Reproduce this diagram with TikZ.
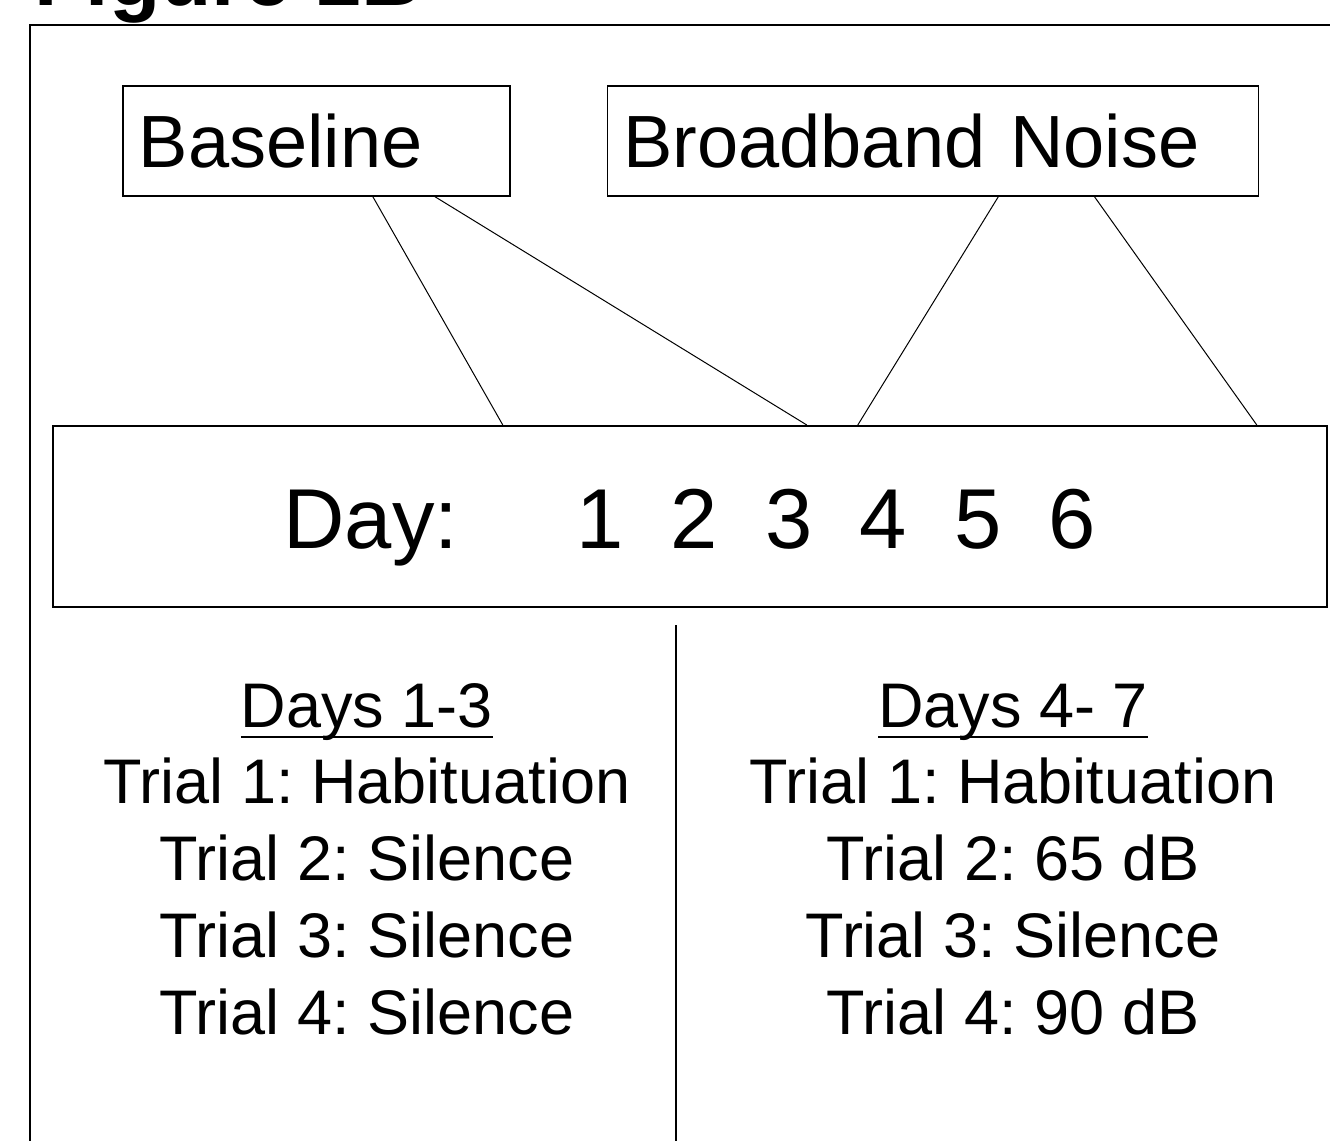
\documentclass[tikz,border=0pt]{standalone}
\usepackage{fontspec}
\setmainfont{Liberation Sans}
\usetikzlibrary{positioning}
\frenchspacing

% underlined column heading, rule drawn just under the baseline
\newsavebox{\headbox}
\newcommand{\colhead}[1]{\sbox{\headbox}{#1}\rlap{\rule[-5.6pt]{\wd\headbox}{1.25pt}}\usebox{\headbox}}

\begin{document}
\begin{tikzpicture}[x=0.5pt,y=-0.5pt,
	phase/.style={draw,line width=0.8pt,anchor=north west,inner xsep=8pt,minimum height=55pt,align=left,text height=26.5pt,text depth=0pt,font=\fontsize{37}{44}\selectfont},
	link/.style={line width=0.5pt},
	trial/.style={anchor=base,inner sep=0pt,font=\fontsize{31.5}{38}\selectfont}]
	\useasboundingbox (0,0) rectangle (1330,1141);
	\node[anchor=base west,inner sep=0pt,font=\fontsize{42}{50}\selectfont\bfseries] (title) at (34,5) {Figure 1B};
	\draw[line width=1.1pt] (1345,25) -- (30,25) -- (30,1160);
	% conditions
	\node[phase,text width=177.5pt] (base) at (122,85) {Baseline};
	\node[phase,text width=309.5pt,right=48pt of base] (noise) {Broadband Noise};
	% days
	\node[draw,line width=0.8pt,anchor=north west,minimum width=637pt,minimum height=90.5pt,text height=32pt,text depth=0pt,font=\fontsize{42.5}{50}\selectfont] (day) at (52,425) {Day:\ \ \ \ \ 1\ \ 2\ \ 3\ \ 4\ \ 5\ \ 6};
	\draw[link] ([xshift=28.25pt]base.south) -- ([xshift=-93.5pt]day.north);
	\draw[link] ([xshift=59.25pt]base.south) -- ([xshift=58.5pt]day.north);
	\draw[link] ([xshift=32.75pt]noise.south) -- ([xshift=84pt]day.north);
	\draw[link] ([xshift=80.75pt]noise.south) -- ([xshift=283.5pt]day.north);
	% trials
	\coordinate (split) at (676,625);
	\draw[line width=0.6pt] (split) -- ++(0,540);
	\node[trial] (lhead) at (367,727) {\colhead{Days 1-3}};
	\node[trial] (l1) at (367,803) {Trial 1: Habituation};
	\node[trial] (l2) at (367,880) {Trial 2: Silence};
	\node[trial] (l3) at (367,957) {Trial 3: Silence};
	\node[trial] (l4) at (367,1034) {Trial 4: Silence};
	\node[trial] (rhead) at (1013,727) {\colhead{Days 4- 7}};
	\node[trial] (r1) at (1013,803) {Trial 1: Habituation};
	\node[trial] (r2) at (1013,880) {Trial 2: 65 dB};
	\node[trial] (r3) at (1013,957) {Trial 3: Silence};
	\node[trial] (r4) at (1013,1034) {Trial 4: 90 dB};
\end{tikzpicture}
\end{document}
